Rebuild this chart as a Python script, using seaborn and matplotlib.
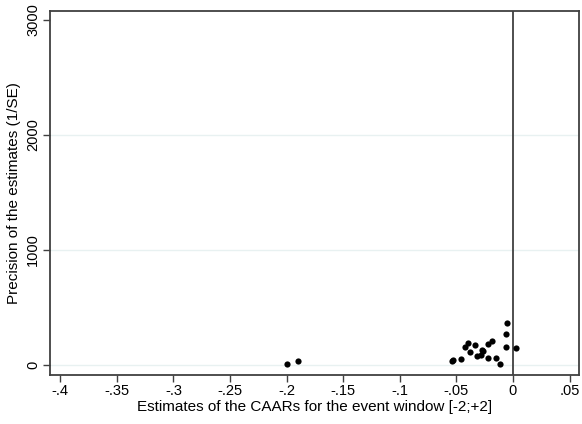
import matplotlib
matplotlib.use("Agg")
import matplotlib.pyplot as plt
import pandas as pd
import seaborn as sns

# CAAR estimates for the event window [-2;+2] and their precision (1/SE)
caar = [-0.0542, -0.0530, -0.0462, -0.0424, -0.0398, -0.0380, -0.0338, -0.0321,
        -0.0283, -0.0271, -0.0262, -0.0223, -0.0218, -0.0183, -0.0153, -0.0112,
        -0.0059, -0.0064, -0.0053, 0.0029, -0.1999, -0.1902]
precision = [35, 43, 52, 154, 194, 110, 174, 76,
             87, 130, 122, 185, 58, 209, 58, 11,
             159, 267, 365, 145, 11, 35]

x_ticks = [-0.4, -0.35, -0.3, -0.25, -0.2, -0.15, -0.1, -0.05, 0, 0.05]
x_labels = ["-.4", "-.35", "-.3", "-.25", "-.2", "-.15", "-.1", "-.05", "0", ".05"]
y_ticks = [0, 1000, 2000, 3000]

df = pd.DataFrame({"caar": caar, "precision": precision})

sns.set_style("white")
plt.rcParams["font.family"] = ["Liberation Sans", "DejaVu Sans"]
plt.rcParams["text.color"] = "black"

fig = plt.figure(figsize=(5.82, 4.24), dpi=100)
ax = fig.add_axes([0.0859, 0.1167, 0.9089, 0.8573])

for yv in y_ticks[:-1]:
    ax.axhline(yv, color="#e8f1f1", lw=1.0, zorder=0)
ax.axvline(0, color="#404040", lw=1.3, zorder=1)

sns.scatterplot(data=df, x="caar", y="precision", ax=ax, color="black",
                s=20, edgecolor="black", linewidth=0, zorder=3)

ax.set_xlim(-0.409, 0.0583)
ax.set_ylim(-83, 3078)
ax.set_xticks(x_ticks)
ax.set_xticklabels(x_labels)
ax.set_yticks(y_ticks)
ax.set_yticklabels([str(v) for v in y_ticks], rotation=90, va="center")
ax.tick_params(axis="both", direction="out", length=5, width=1, color="#404040",
               labelsize=10.5, labelcolor="black", pad=2)
ax.tick_params(axis="x", bottom=True)
ax.tick_params(axis="y", left=True)

ax.set_xlabel("Estimates of the CAARs for the event window [-2;+2]",
              fontsize=11, color="black", labelpad=1)
ax.set_ylabel("Precision of the estimates (1/SE)", fontsize=11,
              color="black", labelpad=4)

for spine in ax.spines.values():
    spine.set_color("#404040")
    spine.set_linewidth(1.3)

fig.savefig("out.png", dpi=100)
plt.close(fig)
